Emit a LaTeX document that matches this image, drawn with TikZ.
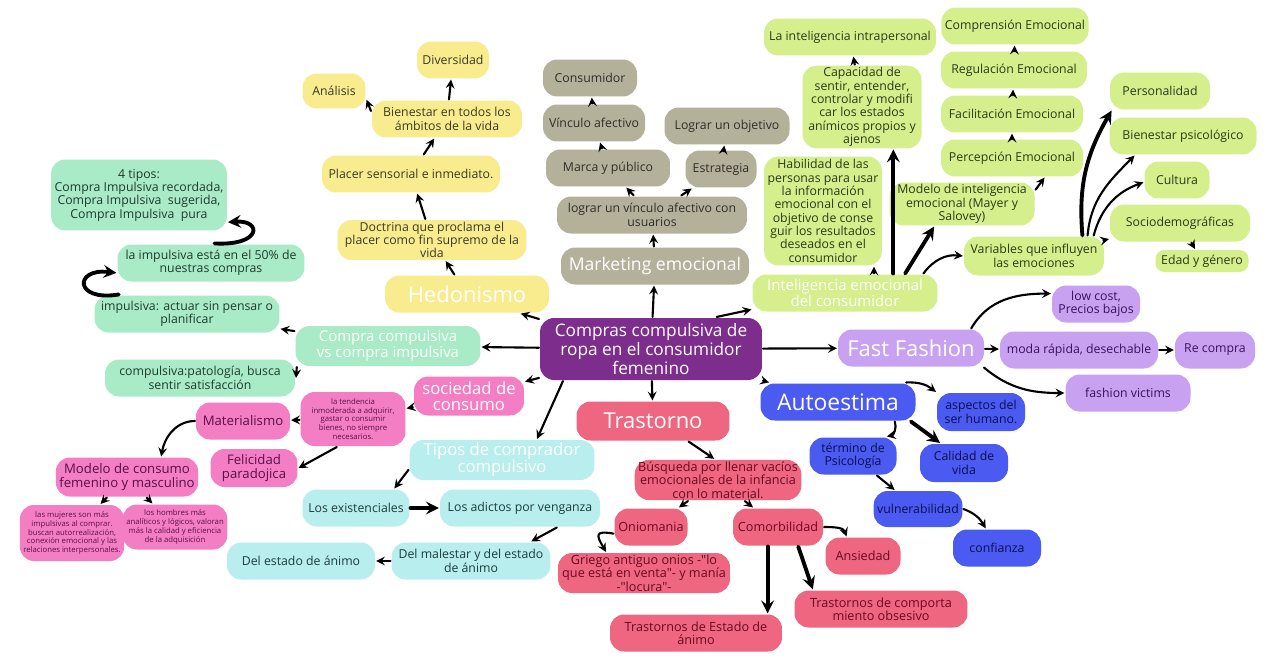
\documentclass[tikz,border=0pt]{standalone}
\usepackage{fontspec}
\setmainfont{Open Sans}
\definecolor{cYel}{HTML}{F9EC8E}
\definecolor{cGry}{HTML}{B4B19B}
\definecolor{cGrn}{HTML}{D5EF8C}
\definecolor{cMnt}{HTML}{A9EBC6}
\definecolor{cPrp}{HTML}{7D2D8C}
\definecolor{cPnk}{HTML}{F47EC4}
\definecolor{cCyn}{HTML}{B8EEEE}
\definecolor{cRed}{HTML}{EE6680}
\definecolor{cBlu}{HTML}{4B5AF0}
\definecolor{cLav}{HTML}{C8A2F0}
\definecolor{tYel}{HTML}{3A3826}
\definecolor{tGry}{HTML}{2E2E2A}
\definecolor{tGrn}{HTML}{2C3818}
\definecolor{tMnt}{HTML}{1E3A2E}
\definecolor{tPnk}{HTML}{5A0F4A}
\definecolor{tCyn}{HTML}{1C3C3C}
\definecolor{tRed}{HTML}{6A0A20}
\definecolor{tBlu}{HTML}{0A1050}
\definecolor{tLav}{HTML}{3A1060}
\begin{document}
\begin{tikzpicture}[x=0.02cm,y=-0.02cm,line join=round,line cap=round,>=stealth,line width=1.2pt]
\tikzset{box/.style={rounded corners=8pt,align=center,inner xsep=2pt,inner ysep=1pt,minimum height=0.74cm,font=\fontsize{7}{7.6}\selectfont},
  yel/.style={box,fill=cYel,text=tYel},
  gry/.style={box,fill=cGry,text=tGry},
  grn/.style={box,fill=cGrn,text=tGrn},
  mnt/.style={box,fill=cMnt,text=tMnt},
  pnk/.style={box,fill=cPnk,text=tPnk,font=\fontsize{7.5}{8}\selectfont},
  cyn/.style={box,fill=cCyn,text=tCyn},
  rd/.style={box,fill=cRed,text=tRed,font=\fontsize{7.2}{7.6}\selectfont},
  blu/.style={box,fill=cBlu,text=tBlu},
  lav/.style={box,fill=cLav,text=tLav},
  head/.style={text=white,font=\fontsize{12.5}{13}\selectfont},
  minitxt/.style={font=\fontsize{4.4}{5}\selectfont},
  thk/.style={line width=2.2pt}}
\fill[white] (0,0) rectangle (1270,666);
\node[box,fill=cPrp,text=white,font=\fontsize{9.8}{9.6}\selectfont,minimum width=4.44cm,minimum height=1.24cm] (root) at (651,349) {Compras compulsiva de\\ropa en el consumidor\\femenino};
\node[yel,head,minimum width=3.28cm] (hed) at (467,294) {Hedonismo};
\node[yel,minimum width=3.78cm,minimum height=0.8cm] (doc) at (432,240) {Doctrina que proclama el\\placer como fin supremo de la\\vida};
\node[yel,minimum width=3.56cm] (plac) at (411,174) {Placer sensorial e inmediato.};
\node[yel,minimum width=3cm] (bien) at (447,119) {Bienestar en todos los\\ámbitos de la vida};
\node[yel,minimum width=1.44cm] (div) at (453,60) {Diversidad};
\node[yel,minimum width=1.26cm,minimum height=0.7cm] (ana) at (334,91) {Análisis};
\node[gry,head,font=\fontsize{10}{10}\selectfont,minimum width=3.76cm] (mkt) at (655,266) {Marketing emocional};
\node[gry,minimum width=3.8cm] (vinc) at (652,215) {lograr un vínculo afectivo con\\usuarios};
\node[gry,minimum width=2.48cm] (marca) at (608,168) {Marca y público};
\node[gry,minimum width=1.42cm] (estr) at (721,169) {Estrategia};
\node[gry,minimum width=2.04cm] (afec) at (594,123) {Vínculo afectivo};
\node[gry,minimum width=2.5cm] (obj) at (727,126) {Lograr un objetivo};
\node[gry,minimum width=1.88cm] (cons) at (590,78) {Consumidor};
\node[grn,head,font=\fontsize{8.5}{9}\selectfont,minimum width=3.7cm] (ie) at (845,293) {Inteligencia emocional\\del consumidor};
\node[grn,minimum width=2.34cm,minimum height=2.18cm] (habil) at (823,211) {Habilidad de las\\personas para usar\\la información\\emocional con el\\objetivo de conse\\guir los resultados\\deseados en el\\consumidor};
\node[grn,minimum width=2.38cm,minimum height=1.58cm] (capac) at (862,107) {Capacidad de\\sentir, entender,\\controlar y modifi\\car los estados\\anímicos propios y\\ajenos};
\node[grn,minimum width=3.44cm] (intra) at (850,37) {La inteligencia intrapersonal};
\node[grn,minimum width=2.9cm,minimum height=0.86cm] (mayer) at (962,204) {Modelo de inteligencia\\emocional (Mayer y\\Salovey)};
\node[grn,minimum width=2.84cm] (perc) at (1012,158) {Percepción Emocional};
\node[grn,minimum width=2.84cm] (facil) at (1012,114) {Facilitación Emocional};
\node[grn,minimum width=2.92cm] (regul) at (1014,70) {Regulación Emocional};
\node[grn,minimum width=2.92cm] (compr) at (1015,26) {Comprensión Emocional};
\node[grn,minimum width=2.8cm,minimum height=0.78cm] (vars) at (1034,256) {Variables que influyen\\las emociones};
\node[grn,minimum width=2cm] (pers) at (1160,91) {Personalidad};
\node[grn,minimum width=2.94cm] (bpsi) at (1183,136) {Bienestar psicológico};
\node[grn,minimum width=1.3cm] (cult) at (1177,180) {Cultura};
\node[grn,minimum width=2.8cm] (socd) at (1180,223) {Sociodemográficas};
\node[grn,rounded corners=5pt,minimum width=1.86cm,minimum height=0.44cm] (edad) at (1202,261) {Edad y género};
\node[mnt,head,font=\fontsize{8.5}{9}\selectfont,minimum width=3.7cm,minimum height=0.8cm] (cvi) at (388,346) {Compra compulsiva\\vs compra impulsiva};
\node[mnt,minimum width=3.7cm] (impul) at (187,314) {impulsiva: actuar sin pensar o\\planificar};
\node[mnt,minimum width=3.8cm] (compul) at (200,378) {compulsiva:patología, busca\\sentir satisfacción};
\node[mnt,minimum width=3.74cm] (medio) at (211,263) {la impulsiva está en el 50\% de\\nuestras compras};
\node[mnt,minimum width=3.44cm,minimum height=1.42cm] (tipos4) at (139,195) {4 tipos:\\Compra Impulsiva recordada,\\Compra Impulsiva\ \ sugerida,\\Compra Impulsiva\ \ pura};
\node[pnk,head,font=\fontsize{9.5}{9}\selectfont,minimum width=2.2cm,minimum height=0.78cm] (socie) at (469,396) {sociedad de\\consumo};
\node[pnk,minitxt,minimum width=2.1cm,minimum height=1.08cm] (tend) at (353,419) {la tendencia\\inmoderada a adquirir,\\gastar o consumir\\bienes, no siempre\\necesarios.};
\node[pnk,minimum width=1.88cm] (mater) at (243,421) {Materialismo};
\node[pnk,minimum width=1.74cm,minimum height=0.76cm] (felic) at (254,468) {Felicidad\\paradojica};
\node[pnk,minimum width=2.74cm,minimum height=0.78cm] (model) at (127,477) {Modelo de consumo\\femenino y masculino};
\node[pnk,minitxt,minimum width=1.98cm,minimum height=1.12cm] (mujer) at (72,533) {las mujeres son más\\impulsivas al comprar.\\buscan autorrealización,\\conexión emocional y las\\relaciones interpersonales.};
\node[pnk,minitxt,minimum width=2cm,minimum height=0.9cm] (hombr) at (175,527) {los hombres más\\analíticos y lógicos, valoran\\más la calidad y eficiencia\\de la adquisición};
\node[cyn,head,font=\fontsize{9.5}{9.5}\selectfont,minimum width=3.7cm,minimum height=0.8cm] (tipos) at (502,460) {Tipos de comprador\\compulsivo};
\node[cyn,minimum width=2.14cm] (exist) at (356,508) {Los existenciales};
\node[cyn,minimum width=3.2cm] (venga) at (520,508) {Los adictos por venganza};
\node[cyn,minimum width=3.18cm] (males) at (471,561) {Del malestar y del estado\\de ánimo};
\node[cyn,minimum width=2.96cm] (animo) at (301,561) {Del estado de ánimo};
\node[rd,head,minimum width=3.06cm,minimum height=0.78cm] (trast) at (653,421) {Trastorno};
\node[rd,minimum width=3.26cm,minimum height=0.8cm] (busq) at (718,480) {Búsqueda por llenar vacíos\\emocionales de la infancia\\con lo material.};
\node[rd,minimum width=1.46cm] (onio) at (651,527) {Oniomania};
\node[rd,minimum width=1.8cm] (comor) at (778,527) {Comorbilidad};
\node[rd,minimum width=1.5cm] (ansie) at (863,556) {Ansiedad};
\node[rd,minimum width=3.44cm,minimum height=0.8cm] (griego) at (644,573) {Griego antiguo onios -\textquotedbl lo\\que está en venta\textquotedbl - y manía\\-\textquotedbl locura\textquotedbl -};
\node[rd,minimum width=3.44cm] (estado) at (696,633) {Trastornos de Estado de\\ánimo};
\node[rd,minimum width=3.46cm] (obses) at (881,609) {Trastornos de comporta\\miento obsesivo};
\node[blu,head,font=\fontsize{13}{13}\selectfont,minimum width=3.1cm] (autoe) at (838,402) {Autoestima};
\node[blu,minimum width=1.76cm,minimum height=0.76cm] (aspec) at (981,412) {aspectos del\\ser humano.};
\node[blu,minimum width=1.74cm] (psico) at (853,456) {término de\\Psicología};
\node[blu,minimum width=1.76cm,minimum height=0.76cm] (calid) at (964,463) {Calidad de\\vida};
\node[blu,minimum width=1.76cm,minimum height=0.72cm] (vulne) at (918,509) {vulnerabilidad};
\node[blu,minimum width=1.76cm] (confi) at (997,548) {confianza};
\node[lav,head,minimum width=2.92cm] (fast) at (911,348) {Fast Fashion};
\node[lav,minimum width=1.76cm] (lowc) at (1096,304) {low cost,\\Precios bajos};
\node[lav,minimum width=3.16cm] (moda) at (1079,350) {moda rápida, desechable};
\node[lav,minimum width=1.6cm] (recom) at (1215,350) {Re compra};
\node[lav,minimum width=2.5cm] (victi) at (1128,393) {fashion victims};
\draw[->] (root.165) -- (hed.-20);
\draw[->] (root) -- (mkt);
\draw[->] (root.26) -- (ie.190);
\draw[->] (root) -- (cvi);
\draw[->] (root) -- (socie);
\draw[->] (root.200) -- (tipos.31);
\draw[->] (root) -- (trast);
\draw[->] (root) -- (autoe);
\draw[->] (root) -- (fast);
\draw[->] (hed) -- (doc);
\draw[->] (doc) -- (plac);
\draw[->] (plac) -- (bien);
\draw[->] (bien) -- (div);
\draw[->] (bien.174) -- (ana.-15);
\draw[->] (mkt) -- (vinc);
\draw[->] (vinc) -- (marca);
\draw[->] (vinc) -- (estr);
\draw[->] (marca) -- (afec);
\draw[->] (afec) -- (cons);
\draw[->] (estr) -- (obj);
\draw[->] (ie.34) -- (ie.34 |- habil.south);
\draw[->,thk] (ie.22) -- (ie.22 |- capac.south);
\draw[->] (capac) -- (intra);
\draw[->,thk] (ie.18) -- (mayer.219);
\draw[->] (ie.14) to[bend left=30] (vars.west);
\draw[->] (mayer.11) -- (perc.-31);
\draw[->] (perc) -- (facil);
\draw[->] (facil) -- (regul);
\draw[->] (regul) -- (compr);
\draw[->,thk] (vars.23) to[out=95,in=240] (pers.202);
\draw[->] (vars.21) to[out=85,in=225] (bpsi.202);
\draw[->] (vars.19) to[out=75,in=200] (cult.184);
\draw[->] (vars) -- (socd);
\draw[->] (socd) -- (edad);
\draw[->] (cvi) -- (impul);
\draw[->] (cvi.193) -- (compul.east);
\draw[->,thk] (impul.164) .. controls (74,302) and (74,268) .. (medio.186);
\draw[->,thk] (medio.80) .. controls (262,246) and (262,220) .. (tipos4.-17);
\draw[->] (socie) -- (tend);
\draw[->] (tend) -- (mater);
\draw[->] (tend.240) -- (felic.east);
\draw[->] (mater.west) to[out=180,in=80] (model.31);
\draw[->] (model) -- (mujer);
\draw[->] (model) -- (hombr);
\draw[->] (tipos.186) -- (exist.27);
\draw[->,thk] (exist) -- (venga);
\draw[->] (venga.-28) -- (males.18);
\draw[->] (males) -- (animo);
\draw[->] (trast.-30) -- (busq.100);
\draw[->] (busq) -- (onio);
\draw[->] (busq) -- (comor);
\draw[->] (onio.190) to[out=170,in=120,looseness=2.5] (griego.151);
\draw[->] (comor.east) to[out=0,in=110] (ansie.130);
\draw[->,thk] (comor.-118) -- (comor.-118 |- estado.north);
\draw[->,thk] (comor.-44) -- (obses.164);
\draw[->] (autoe) to[bend left=20] (aspec);
\draw[->] (autoe.-19) to[bend left=50] (psico.30);
\draw[->,thk] (autoe.-15) -- (calid.140);
\draw[->] (psico) -- (vulne);
\draw[->] (vulne.east) to[out=-20,in=120] (confi.120);
\draw[->] (fast.18) to[out=60,in=180] (lowc.167);
\draw[->] (fast) -- (moda);
\draw[->] (moda) -- (recom);
\draw[->] (fast.-15) to[out=-40,in=180] (victi.west);
\end{tikzpicture}
\end{document}
